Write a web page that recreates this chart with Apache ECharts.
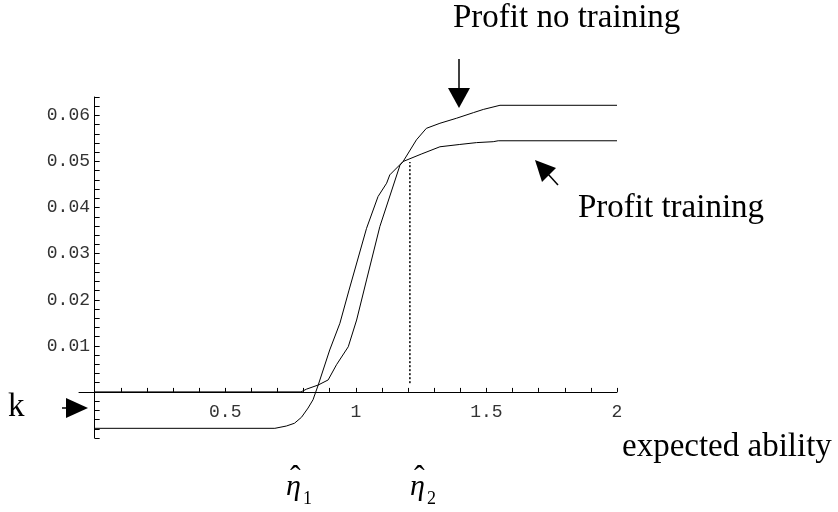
<!DOCTYPE html>
<html>
<head>
<meta charset="utf-8">
<script src="https://cdn.jsdelivr.net/npm/echarts@6/dist/echarts.min.js"></script>
<style>
  html, body { margin: 0; padding: 0; background: #fff; }
  #chart { width: 838px; height: 512px; }
</style>
</head>
<body>
<div id="chart"></div>
<script>
// expected ability (x) and profit (y)
var trainX = [0, 0.69, 0.734, 0.765, 0.792, 0.817, 0.836, 0.856, 0.90, 0.939, 0.974, 1.041, 1.085, 1.118, 1.130, 1.181, 1.25, 1.322, 1.398, 1.462, 1.526, 1.545, 2]
var trainY = [-0.0079, -0.0079, -0.0074, -0.0068, -0.0055, -0.0035, -0.0017, 0.0015, 0.0091, 0.0149, 0.0221, 0.0355, 0.0424, 0.0453, 0.0471, 0.0500, 0.0516, 0.0532, 0.0537, 0.0541, 0.0543, 0.0545, 0.0545]

var noTrainX = [0, 0.79, 0.811, 0.856, 0.894, 0.926, 0.971, 1.003, 1.041, 1.092, 1.169, 1.181, 1.232, 1.270, 1.322, 1.386, 1.450, 1.488, 1.552, 2]
var noTrainY = [0, 0, 0.0006, 0.0015, 0.0026, 0.0059, 0.0098, 0.0156, 0.0243, 0.0359, 0.0492, 0.0500, 0.0547, 0.0572, 0.0583, 0.0594, 0.0606, 0.0613, 0.0622, 0.0622]

// dotted line at eta-hat 2
var eta2X = [1.207, 1.207]
var eta2Y = [0.0019, 0.0499]

// ticks and tick labels
var xTickValues = [0.1, 0.2, 0.3, 0.4, 0.5, 0.6, 0.7, 0.8, 0.9, 1, 1.1, 1.2, 1.3, 1.4, 1.5, 1.6, 1.7, 1.8, 1.9, 2]
var xLabelValues = [0.5, 1, 1.5, 2]
var yTickValues = [-0.01, -0.008, -0.006, -0.004, -0.002, 0.002, 0.004, 0.006, 0.008, 0.01, 0.012, 0.014, 0.016, 0.018, 0.02,
  0.022, 0.024, 0.026, 0.028, 0.03, 0.032, 0.034, 0.036, 0.038, 0.04, 0.042, 0.044, 0.046, 0.048, 0.05,
  0.052, 0.054, 0.056, 0.058, 0.06, 0.062, 0.064]
var yLabelValues = [0.01, 0.02, 0.03, 0.04, 0.05, 0.06]

function pairs (xs, ys) {
  return xs.map(function (x, i) { return [x, ys[i]] })
}

var serif = 'Liberation Serif'
var mono = 'Liberation Mono'

var chart = echarts.init(document.getElementById('chart'), null, { renderer: 'canvas' })
chart.setOption({
  animation: false,
  grid: { left: 79, right: 221, top: 97, bottom: 74 },
  xAxis: {
    type: 'value',
    min: -0.06,
    max: 2,
    axisLine: { onZero: true, lineStyle: { color: '#000', width: 1 } },
    axisTick: { inside: true, length: 4, customValues: xTickValues, lineStyle: { color: '#000' } },
    axisLabel: {
      customValues: xLabelValues,
      fontFamily: mono,
      fontSize: 18,
      color: '#333',
      margin: -35,
      formatter: function (v) { return String(v) }
    },
    splitLine: { show: false }
  },
  yAxis: {
    type: 'value',
    min: -0.01,
    max: 0.064,
    axisLine: { show: true, onZero: true, lineStyle: { color: '#000', width: 1 } },
    axisTick: { show: true, inside: true, length: 5, customValues: yTickValues, lineStyle: { color: '#000' } },
    axisLabel: {
      customValues: yLabelValues,
      fontFamily: mono,
      fontSize: 18,
      color: '#333',
      margin: -11,
      formatter: function (v) { return v.toFixed(2) }
    },
    splitLine: { show: false }
  },
  series: [
    {
      name: 'Profit training',
      type: 'line',
      showSymbol: false,
      lineStyle: { color: '#000', width: 1 },
      data: pairs(trainX, trainY)
    },
    {
      name: 'Profit no training',
      type: 'line',
      showSymbol: false,
      lineStyle: { color: '#000', width: 1 },
      data: pairs(noTrainX, noTrainY)
    },
    {
      type: 'line',
      showSymbol: false,
      lineStyle: { color: '#000', width: 1.5, type: [2, 2] },
      data: pairs(eta2X, eta2Y)
    }
  ],
  graphic: [
    // labels
    { type: 'text', left: 453, top: 2, style: { text: 'Profit no training', font: '33px ' + serif, fill: '#000' } },
    { type: 'text', left: 578, top: 192, style: { text: 'Profit training', font: '33px ' + serif, fill: '#000' } },
    { type: 'text', left: 622, top: 431, style: { text: 'expected ability', font: '33px ' + serif, fill: '#000' } },
    { type: 'text', left: 8, top: 391, style: { text: 'k', font: '33px ' + serif, fill: '#000' } },
    { type: 'text', left: 286, top: 472, style: { text: 'η', font: 'italic 30px ' + serif, fill: '#000' } },
    { type: 'text', left: 290, top: 463, style: { text: 'ˆ', font: '32px ' + serif, fill: '#000' } },
    { type: 'text', left: 303, top: 490, style: { text: '1', font: '18px ' + serif, fill: '#000' } },
    { type: 'text', left: 410, top: 472, style: { text: 'η', font: 'italic 30px ' + serif, fill: '#000' } },
    { type: 'text', left: 414, top: 463, style: { text: 'ˆ', font: '32px ' + serif, fill: '#000' } },
    { type: 'text', left: 427, top: 490, style: { text: '2', font: '18px ' + serif, fill: '#000' } },
    // arrows
    { type: 'line', shape: { x1: 459, y1: 59, x2: 459, y2: 90 }, style: { stroke: '#000', lineWidth: 1.5 } },
    { type: 'polygon', shape: { points: [[448, 88], [470, 88], [459, 108]] }, style: { fill: '#000' } },
    { type: 'line', shape: { x1: 558, y1: 185, x2: 548, y2: 174 }, style: { stroke: '#000', lineWidth: 1.5 } },
    { type: 'polygon', shape: { points: [[535, 160], [556, 168], [542, 182]] }, style: { fill: '#000' } },
    { type: 'line', shape: { x1: 62, y1: 408, x2: 68, y2: 408 }, style: { stroke: '#000', lineWidth: 1.5 } },
    { type: 'polygon', shape: { points: [[66, 398], [66, 418], [88, 408]] }, style: { fill: '#000' } }
  ]
})
</script>
</body>
</html>
